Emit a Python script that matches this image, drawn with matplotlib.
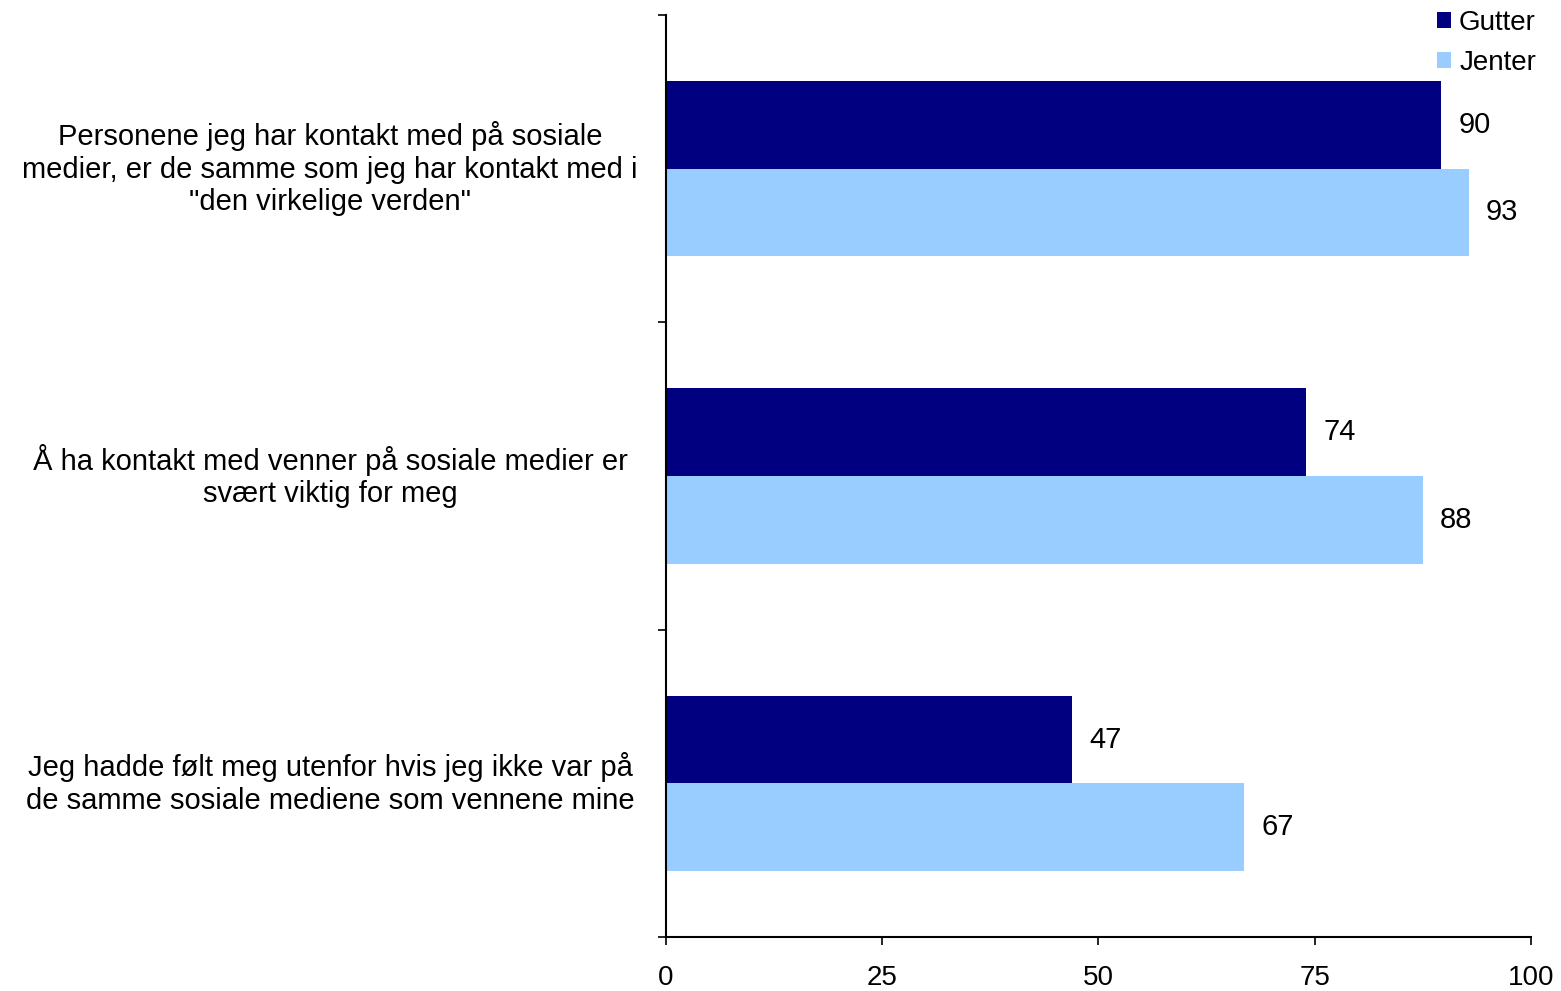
import numpy as np
import matplotlib.pyplot as plt
import matplotlib.transforms as mtransforms

categories = [
    'Personene jeg har kontakt med på sosiale\nmedier, er de samme som jeg har kontakt med i\n"den virkelige verden"',
    'Å ha kontakt med venner på sosiale medier er\nsvært viktig for meg',
    'Jeg hadde følt meg utenfor hvis jeg ikke var på\nde samme sosiale mediene som vennene mine',
]
gutter = [89.6, 74.0, 46.9]
jenter = [92.8, 87.5, 66.8]
gutter_labels = ['90', '74', '47']
jenter_labels = ['93', '88', '67']
xticks = [0, 25, 50, 75, 100]

FONT = 'Liberation Sans'


def main():
    fig = plt.figure(figsize=(15.61, 9.91), dpi=100)
    ax = fig.add_axes([0.4266, 0.0545, 0.5542, 0.9304])

    y = np.arange(len(categories))
    h = 0.285
    b1 = ax.barh(y - h / 2, gutter, height=h, color='#000080', label='Gutter')
    b2 = ax.barh(y + h / 2, jenter, height=h, color='#99ccff', label='Jenter')

    for bars, labels in ((b1, gutter_labels), (b2, jenter_labels)):
        for bar, lab in zip(bars, labels):
            ax.text(bar.get_width() + 2, bar.get_y() + bar.get_height() / 2, lab,
                    va='center', ha='left', fontsize=21, family=FONT)

    ax.set_xlim(0, 100)
    ax.set_ylim(len(categories) - 0.5, -0.5)
    ax.set_xticks(xticks)
    ax.set_xticklabels([str(t) for t in xticks], fontsize=20, family=FONT)
    ax.tick_params(axis='x', direction='out', length=6, width=1.2, pad=14)

    # ticks between the groups, category texts placed by hand
    ax.set_yticks(np.arange(len(categories) + 1) - 0.5)
    ax.set_yticklabels([])
    ax.tick_params(axis='y', direction='out', length=6, width=1.2)
    trans = mtransforms.blended_transform_factory(fig.transFigure, ax.transData)
    for yi, cat in zip(y, categories):
        ax.text(0.2114, yi, cat, transform=trans, ha='center', va='center',
                multialignment='center', fontsize=21, family=FONT, linespacing=1.22)

    for s in ('top', 'right'):
        ax.spines[s].set_visible(False)
    ax.spines['left'].set_linewidth(1.5)
    ax.spines['bottom'].set_linewidth(1.5)

    fig.legend(handles=[b1, b2], loc='upper right', bbox_to_anchor=(1.0, 1.015),
               frameon=False, prop={'family': FONT, 'size': 20}, handlelength=0.5,
               handleheight=0.5, handletextpad=0.3, labelspacing=0.5)

    fig.savefig('out.png', dpi=100)


if __name__ == '__main__':
    main()
